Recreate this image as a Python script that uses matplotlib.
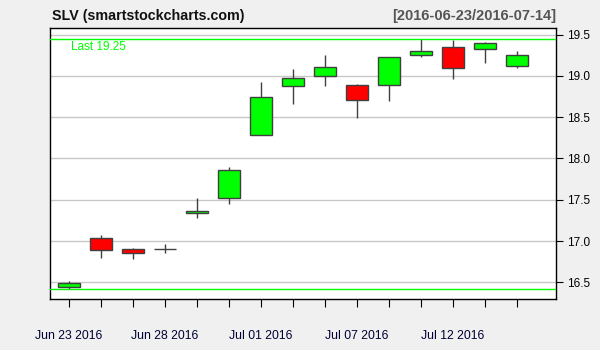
import matplotlib
matplotlib.use("Agg")
import matplotlib.pyplot as plt

# SLV daily OHLC
dates = ["Jun 23 2016", "Jun 24 2016", "Jun 27 2016", "Jun 28 2016", "Jun 29 2016",
         "Jun 30 2016", "Jul 01 2016", "Jul 05 2016", "Jul 06 2016", "Jul 07 2016",
         "Jul 08 2016", "Jul 11 2016", "Jul 12 2016", "Jul 13 2016", "Jul 14 2016"]
opens  = [16.44, 17.04, 16.90, 16.90, 17.34, 17.52, 18.28, 18.88, 19.00, 18.89,
          18.89, 19.25, 19.35, 19.32, 19.12]
highs  = [16.52, 17.07, 16.92, 16.96, 17.52, 17.90, 18.93, 19.08, 19.25, 18.90,
          19.23, 19.45, 19.44, 19.41, 19.30]
lows   = [16.42, 16.79, 16.78, 16.85, 17.28, 17.45, 18.28, 18.66, 18.88, 18.49,
          18.70, 19.23, 18.96, 19.16, 19.10]
closes = [16.49, 16.89, 16.86, 16.90, 17.37, 17.86, 18.74, 18.98, 19.11, 18.71,
          19.23, 19.30, 19.09, 19.40, 19.25]
label_idx = [0, 3, 6, 9, 12]
yticks = [16.5, 17.0, 17.5, 18.0, 18.5, 19.0, 19.5]

UP, DOWN, EDGE = "#00ff00", "#ff0000", "#404040"
plt.rcParams.update({"font.family": ["Liberation Sans", "DejaVu Sans"]})

fig = plt.figure(figsize=(6, 3.5), dpi=100, facecolor="#f0f0f0")
ax = fig.add_axes([0.084, 0.146, 0.843, 0.774])
ax.set_facecolor("white")

x = list(range(len(dates)))
for yv in yticks:
    ax.axhline(yv, color="#c8c8c8", lw=1.0, zorder=0)

ax.vlines(x, lows, highs, color=EDGE, lw=1.0, zorder=1)
bottoms = [min(o, c) for o, c in zip(opens, closes)]
heights = [abs(c - o) for o, c in zip(opens, closes)]
colors = [UP if c >= o else DOWN for o, c in zip(opens, closes)]
ax.bar(x, heights, bottom=bottoms, width=0.67, color=colors, edgecolor=EDGE,
       linewidth=1.0, zorder=2)

# range lines at the extremes + last price
ax.axhline(max(highs), color=UP, lw=1.0, zorder=3)
ax.axhline(min(lows), color=UP, lw=1.0, zorder=3)
ax.text(0.04, 0.953, f"Last {closes[-1]:.2f}", transform=ax.transAxes,
        color=UP, fontsize=8.5, va="top", ha="left")

ax.set_xlim(-0.58, len(dates) - 1 + 1.22)
ax.set_ylim(16.30, 19.58)
ax.set_xticks(x)
ax.set_xticklabels([d if i in label_idx else "" for i, d in enumerate(dates)],
                   fontsize=8.8, color="#000033")
ax.tick_params(axis="x", length=6, width=0.8, pad=16.5)
ax.yaxis.tick_right()
ax.set_yticks(yticks)
ax.set_yticklabels([f"{v:.1f}" for v in yticks], fontsize=8.5)
ax.tick_params(axis="y", length=5, width=0.8, pad=3)
for sp in ax.spines.values():
    sp.set_linewidth(1.0)
    sp.set_color("black")

fig.text(0.086, 0.955, "SLV (smartstockcharts.com)", fontsize=10.3, fontweight="bold",
         ha="left", va="center", color="#111111")
fig.text(0.927, 0.955, "[2016-06-23/2016-07-14]", fontsize=10.5, fontweight="bold",
         ha="right", va="center", color="#555555")

fig.savefig("out.png", dpi=100, facecolor=fig.get_facecolor())
